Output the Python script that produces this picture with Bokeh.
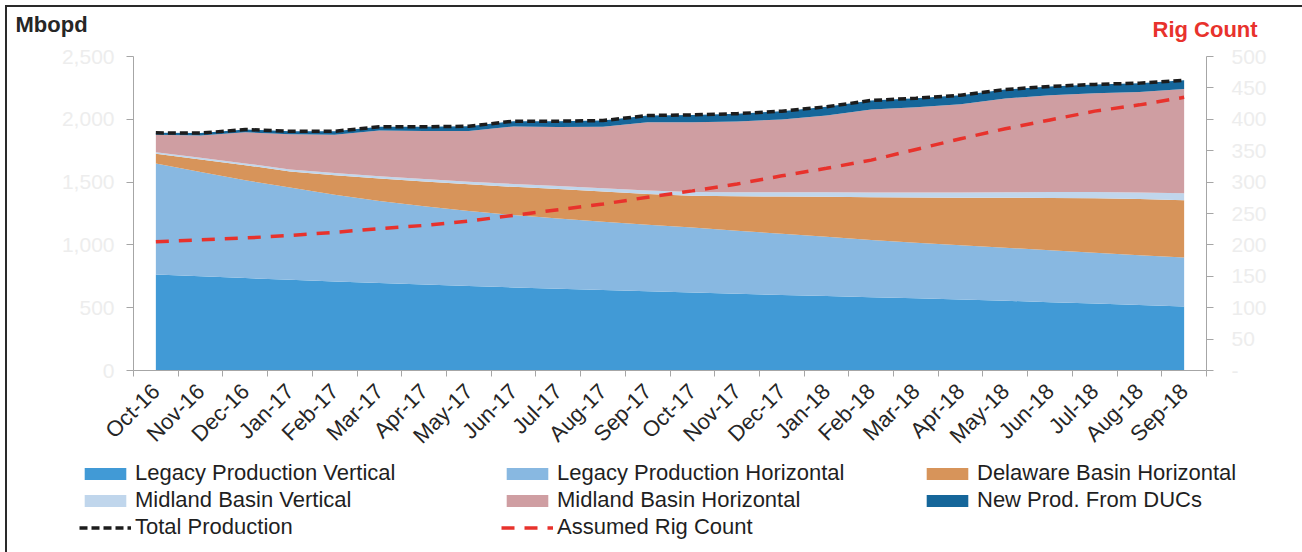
import math
from bokeh.plotting import figure
from bokeh.layouts import column
from bokeh.models import (Range1d, LinearAxis, FixedTicker, Legend, LegendItem, Label,
                          ColumnDataSource, NumeralTickFormatter, CustomJSTickFormatter)
from bokeh.transform import stack
from bokeh.embed import file_html
from bokeh.resources import INLINE

months = ["Oct-16", "Nov-16", "Dec-16", "Jan-17", "Feb-17", "Mar-17", "Apr-17", "May-17",
          "Jun-17", "Jul-17", "Aug-17", "Sep-17", "Oct-17", "Nov-17", "Dec-17", "Jan-18",
          "Feb-18", "Mar-18", "Apr-18", "May-18", "Jun-18", "Jul-18", "Aug-18", "Sep-18"]

legacy_vertical = [764, 750, 736, 722, 709, 696, 684, 672, 661, 651, 641, 631,
                   621, 611, 602, 593, 584, 575, 565, 555, 544, 533, 522, 510]
legacy_horizontal = [884, 830, 779, 735, 691, 654, 624, 598, 577, 559, 544, 529,
                     517, 502, 486, 471, 456, 442, 432, 423, 414, 405, 396, 390]
delaware_horizontal = [78, 100, 120, 128, 155, 178, 197, 212, 224, 235, 240, 245,
                       254, 275, 297, 319, 340, 361, 379, 397, 416, 434, 447, 456]
midland_vertical = [12, 13, 14, 16, 17, 18, 20, 21, 23, 24, 26, 28,
                    30, 32, 34, 36, 38, 40, 42, 44, 47, 50, 52, 55]
midland_horizontal = [139, 179, 248, 279, 305, 364, 382, 404, 458, 470, 489, 543,
                      555, 563, 580, 611, 660, 678, 702, 746, 771, 786, 801, 830]
new_ducs = [15, 18, 22, 25, 28, 30, 33, 38, 42, 46, 50, 54,
            58, 62, 66, 70, 72, 72, 72, 72, 70, 70, 70, 70]
rig_count = [205, 208, 211, 215, 220, 226, 231, 238, 247, 256, 265, 276,
             286, 297, 310, 322, 335, 352, 369, 385, 399, 413, 423, 435]

left_ticks = [0, 500, 1000, 1500, 2000, 2500]
right_ticks = [0, 50, 100, 150, 200, 250, 300, 350, 400, 450, 500]

series_names = ["Legacy Production Vertical", "Legacy Production Horizontal",
                "Delaware Basin Horizontal", "Midland Basin Vertical",
                "Midland Basin Horizontal", "New Prod. From DUCs"]
keys = ["lv", "lh", "dh", "mv", "mh", "duc"]
colors = ["#419ad6", "#88b8e1", "#d7945a", "#c0d6ec", "#cf9ea2", "#15669a"]

source = ColumnDataSource(dict(
    x=list(range(len(months))),
    lv=legacy_vertical, lh=legacy_horizontal, dh=delaware_horizontal,
    mv=midland_vertical, mh=midland_horizontal, duc=new_ducs, rig=rig_count))

FONT = "Liberation Sans"
W = 1295
RIG_COLOR = "#e8322c"
TOT_COLOR = "#1c1c1c"


def draw_series(fig):
    a = fig.varea_stack(stackers=keys, x="x", source=source, color=colors)
    r = fig.line(x="x", y="rig", source=source, y_range_name="rig",
                 line_color=RIG_COLOR, line_width=3.5, line_dash="13 10")
    t = fig.line(x="x", y=stack(*keys), source=source,
                 line_color=TOT_COLOR, line_width=3.5, line_dash="8 4")
    return a, r, t


def bare(fig):
    fig.xgrid.visible = False
    fig.ygrid.visible = False
    fig.outline_line_color = None


# ---------- header with the two axis titles ----------
head = figure(width=W, height=37, x_range=Range1d(0, 1), y_range=Range1d(0, 1),
              output_backend="svg", toolbar_location=None,
              x_axis_location=None, y_axis_location=None, min_border=0, frame_align=False)
bare(head)
head.add_layout(Label(x=8, y=8, x_units="screen", y_units="screen", text="Mbopd",
                      text_font=FONT, text_font_style="bold", text_font_size="22px",
                      text_color="#262626", text_baseline="bottom"))
head.add_layout(Label(x=1145, y=3, x_units="screen", y_units="screen", text="Rig Count",
                      text_font=FONT, text_font_style="bold", text_font_size="22px",
                      text_color=RIG_COLOR, text_baseline="bottom"))

# ---------- main chart ----------
p = figure(width=W, height=416, x_range=Range1d(-0.5, len(months) - 0.5),
           y_range=Range1d(0, 2500), output_backend="svg", toolbar_location=None,
           min_border_left=126, min_border_right=W - 1199, min_border_top=12,
           min_border_bottom=89)
p.extra_y_ranges = {"rig": Range1d(0, 500)}
bare(p)
draw_series(p)

AX = "#a6a6a6"
TICKLBL = "#ededed"

xa = p.xaxis[0]
xa.ticker = FixedTicker(ticks=list(range(len(months))),
                        minor_ticks=[i - 0.5 for i in range(len(months) + 1)])
xa.formatter = CustomJSTickFormatter(args=dict(labels=months),
                                     code="const i = Math.round(tick); return labels[i] || '';")
xa.major_tick_line_color = None
xa.major_tick_out = 0
xa.major_tick_in = 0
xa.minor_tick_line_color = AX
xa.minor_tick_out = 6
xa.minor_tick_in = 0
xa.axis_line_color = AX
xa.major_label_orientation = math.pi / 4
xa.major_label_text_font = FONT
xa.major_label_text_font_size = "22px"
xa.major_label_text_color = "#262626"
xa.major_label_standoff = 11

ya = p.yaxis[0]
ya.ticker = FixedTicker(ticks=left_ticks, minor_ticks=[])
ya.formatter = NumeralTickFormatter(format="0,0")
ya.axis_line_color = AX
ya.major_tick_line_color = AX
ya.major_tick_out = 7
ya.major_tick_in = 0
ya.minor_tick_line_color = None
ya.major_label_text_font = FONT
ya.major_label_text_font_size = "21px"
ya.major_label_text_color = TICKLBL
ya.major_label_standoff = 12

ra = LinearAxis(y_range_name="rig", ticker=FixedTicker(ticks=right_ticks, minor_ticks=[]))
ra.major_label_overrides = {0: "-"}
ra.axis_line_color = AX
ra.major_tick_line_color = AX
ra.major_tick_out = 7
ra.major_tick_in = 0
ra.minor_tick_line_color = None
ra.major_label_text_font = FONT
ra.major_label_text_font_size = "21px"
ra.major_label_text_color = TICKLBL
ra.major_label_standoff = 18
p.add_layout(ra, "right")

# ---------- legend strip ----------
leg = figure(width=W, height=92, x_range=Range1d(-0.5, len(months) - 0.5),
             y_range=Range1d(-2, -1), output_backend="svg", toolbar_location=None,
             x_axis_location=None, y_axis_location=None, min_border=0, frame_align=False)
leg.extra_y_ranges = {"rig": Range1d(-2, -1)}
bare(leg)
la, lr, lt = draw_series(leg)

leg_style = dict(orientation="vertical", background_fill_alpha=0, border_line_color=None,
                 label_text_font=FONT, label_text_font_size="22px",
                 label_text_color="#1f1f1f", glyph_width=52, glyph_height=15,
                 label_standoff=4, label_height=26, spacing=1, padding=0, margin=0)
col1 = [LegendItem(label=series_names[0], renderers=[la[0]]),
        LegendItem(label=series_names[3], renderers=[la[3]]),
        LegendItem(label="Total Production", renderers=[lt])]
col2 = [LegendItem(label=series_names[1], renderers=[la[1]]),
        LegendItem(label=series_names[4], renderers=[la[4]]),
        LegendItem(label="Assumed Rig Count", renderers=[lr])]
col3 = [LegendItem(label=series_names[2], renderers=[la[2]]),
        LegendItem(label=series_names[5], renderers=[la[5]])]
leg.add_layout(Legend(items=col1, location=(72, 12), **leg_style), "center")
leg.add_layout(Legend(items=col2, location=(494, 12), **leg_style), "center")
leg.add_layout(Legend(items=col3, location=(914, 39), **leg_style), "center")

page = column(head, p, leg, spacing=0,
              styles={"border-top": "2px solid #2a2a2a", "border-left": "2px solid #2a2a2a",
                      "margin-left": "5px", "margin-top": "5px"})

open("out.html", "w").write(file_html(page, INLINE))
